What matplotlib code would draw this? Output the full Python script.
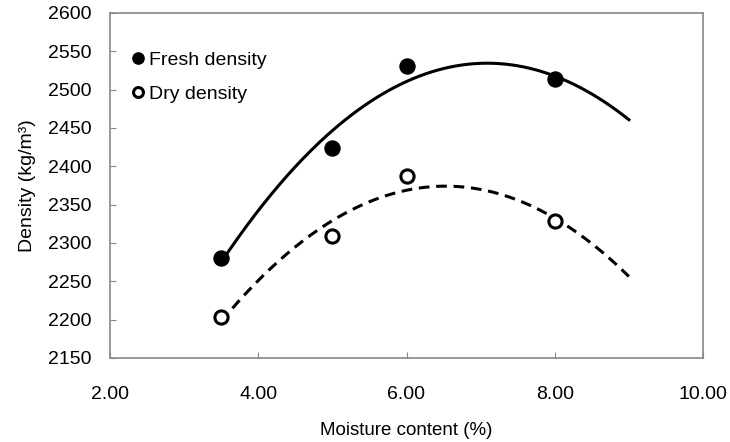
import numpy as np
import matplotlib
matplotlib.use("Agg")
import matplotlib.pyplot as plt

plt.rcParams['font.family'] = ['Liberation Sans', 'DejaVu Sans']

moisture = [3.5, 5.0, 6.0, 8.0]
fresh_density = [2281, 2424, 2531, 2514]
dry_density = [2203, 2309, 2387, 2329]
x_ticks = [2.0, 4.0, 6.0, 8.0, 10.0]
y_ticks = [2150, 2200, 2250, 2300, 2350, 2400, 2450, 2500, 2550, 2600]

fig = plt.figure(figsize=(7.3, 4.42), dpi=100)
ax = fig.add_axes([110 / 730, 84 / 442, 593 / 730, 345 / 442])

# polynomial (order 2) trendlines, as in the spreadsheet chart
xs = np.linspace(3.5, 9.0, 200)
pf = np.polyfit(moisture, fresh_density, 2)
pd_ = np.polyfit(moisture, dry_density, 2)
ax.plot(xs, np.polyval(pf, xs), color='black', lw=2.2, zorder=2)
ax.plot(xs, np.polyval(pd_, xs), color='black', lw=2.2, ls=(0, (3.5, 2.2)), zorder=2)

ax.plot(moisture, fresh_density, 'o', color='black', ms=10.8, ls='none',
        label='Fresh density', zorder=3)
ax.plot(moisture, dry_density, 'o', mfc='white', mec='black', mew=2.2, ms=9.5,
        ls='none', label='Dry density', zorder=3)

ax.set_xlim(2, 10)
ax.set_ylim(2150, 2600)
ax.set_xticks(x_ticks)
ax.set_xticklabels([f"{v:.2f}" for v in x_ticks])
ax.set_yticks(y_ticks)
ax.tick_params(direction='in', length=4, color='#888888', labelsize=14)
ax.tick_params(axis='y', pad=13)
ax.tick_params(axis='x', pad=20)
for s in ax.spines.values():
    s.set_color('#888888')
    s.set_linewidth(1.2)

ax.set_xlabel('Moisture content (%)', fontsize=13.5, labelpad=13.5)
ax.set_ylabel('Density (kg/m³)', fontsize=14, labelpad=9)

ax.legend(loc='upper left', bbox_to_anchor=(0.034, 0.89), frameon=False,
          fontsize=14, handletextpad=0.17, handlelength=0.8,
          labelspacing=0.85, borderaxespad=0.0, borderpad=0.0,
          markerscale=0.75)

fig.savefig('out.png', dpi=100)
